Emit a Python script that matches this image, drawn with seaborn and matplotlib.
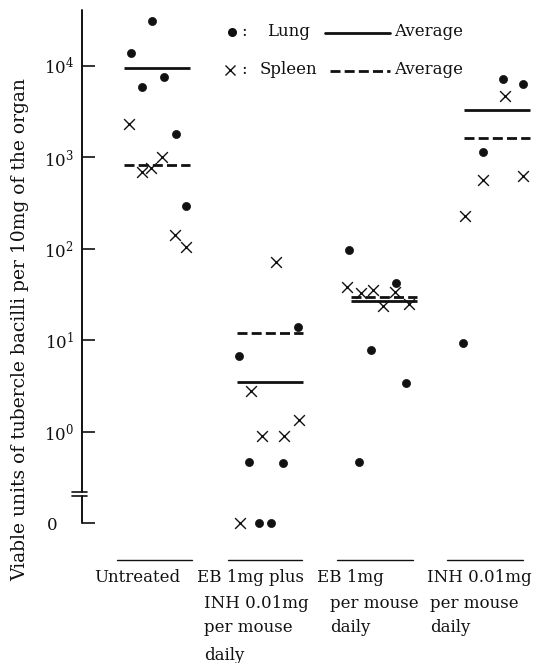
import numpy as np
import pandas as pd
import matplotlib
matplotlib.use("Agg")
import matplotlib.pyplot as plt
from matplotlib.lines import Line2D
import seaborn as sns

sns.set_theme(style="white")
plt.rcParams['font.family'] = ['DejaVu Serif']
plt.rcParams['mathtext.fontset'] = 'dejavuserif'

# ---------------- data ----------------
groups = ["Untreated", "EB+INH", "EB", "INH"]
group_labels = [
    ["Untreated"],
    ["EB 1mg plus", "INH 0.01mg", "per mouse", "daily"],
    ["EB 1mg", "per mouse", "daily"],
    ["INH 0.01mg", "per mouse", "daily"],
]

lung_values = [
    [31000, 13900, 5900, 7600, 1780, 295],
    [13.8, 6.7, 0.47, 0.45, 0, 0],
    [96, 42, 7.8, 3.4, 0.47],
    [7200, 6300, 1130, 9.3],
]
spleen_values = [
    [2300, 690, 770, 1000, 140, 105],
    [72, 2.75, 1.35, 0.9, 0.9, 0],
    [38, 33, 35, 34, 23.5, 25],
    [4700, 570, 630, 230],
]
lung_average = [9500, 3.45, 27, 3300]
spleen_average = [830, 12, 29.5, 1620]

# horizontal scatter of the hand-plotted points within each group (fraction of group spacing)
lung_offsets = [
    [-0.04, -0.23, -0.13, 0.06, 0.17, 0.26],
    [0.24, -0.28, -0.19, 0.11, -0.10, 0.01],
    [-0.31, 0.11, -0.11, 0.20, -0.22],
    [0.05, 0.23, -0.12, -0.30],
]
spleen_offsets = [
    [-0.25, -0.13, -0.05, 0.04, 0.16, 0.26],
    [0.05, -0.17, 0.25, -0.07, 0.12, -0.27],
    [-0.32, -0.20, -0.09, 0.10, -0.01, 0.22],
    [0.07, -0.12, 0.23, -0.28],
]

ZERO_LEVEL = 0.1   # display position of "0" below the axis break

def build(values, offsets, organ):
    rows = []
    for gi, (vals, offs) in enumerate(zip(values, offsets)):
        for v, o in zip(vals, offs):
            rows.append({"x": gi + o, "value": v if v > 0 else ZERO_LEVEL, "organ": organ})
    return pd.DataFrame(rows)

lung_df = build(lung_values, lung_offsets, "Lung")
spleen_df = build(spleen_values, spleen_offsets, "Spleen")

# ---------------- figure ----------------
W, H = 539, 663
fig = plt.figure(figsize=(W / 100, H / 100), dpi=100)

def fx(px):
    return px / W

def fy(py):
    return 1 - py / H

ax_left, ax_bottom_px, ax_top_px = 82, 523, 10
ax = fig.add_axes([fx(ax_left), fy(ax_bottom_px), 1 - fx(ax_left), (ax_bottom_px - ax_top_px) / H])
ax.set_yscale("log")
ax.set_ylim(ZERO_LEVEL, 10 ** 4.61)
ax.set_xlim(-0.662, 3.371)

ink = "#111111"
sns.scatterplot(data=lung_df, x="x", y="value", marker="o", s=34, color=ink,
                edgecolor=ink, linewidth=0.5, ax=ax, clip_on=False, zorder=3, legend=False)
sns.scatterplot(data=spleen_df, x="x", y="value", marker="x", s=60, color=ink,
                linewidth=1.0, ax=ax, clip_on=False, zorder=3, legend=False)

hw = 0.29
for gi in range(len(groups)):
    ax.hlines(lung_average[gi], gi - hw, gi + hw, colors=ink, linewidth=2.0, zorder=2)
    ax.hlines(spleen_average[gi], gi - hw, gi + hw, colors=ink, linewidth=2.0,
              linestyles=(0, (3.6, 1.5)), zorder=2)

# axes styling
for sp in ax.spines.values():
    sp.set_visible(False)
ax.set_xlabel("")
ax.set_ylabel("")
ax.set_xticks([])
yt = [1, 10, 100, 1000, 10000]
ax.set_yticks(yt + [ZERO_LEVEL])
ax.set_yticklabels([r"$10^{0}$", r"$10^{1}$", r"$10^{2}$", r"$10^{3}$", r"$10^{4}$", "0"])
ax.yaxis.set_minor_locator(matplotlib.ticker.NullLocator())
ax.tick_params(axis="y", direction="in", length=9, width=1.2, color=ink,
               labelsize=12, labelcolor=ink, pad=6, left=True)
# the "0" label sits a little further left in the print
ax.get_yticklabels()[-1].set_x(-0.035)

# left axis drawn with a break
ytr = ax.get_yaxis_transform()
ax.plot([0, 0], [10 ** -0.66, 10 ** 4.61], transform=ytr, color=ink, lw=1.4, clip_on=False)
ax.plot([0, 0], [10 ** -0.71, ZERO_LEVEL], transform=ytr, color=ink, lw=1.4, clip_on=False)
for yb in (10 ** -0.66, 10 ** -0.71):
    ax.plot([-0.022, 0.011], [yb, yb], transform=ytr, color=ink, lw=1.2, clip_on=False)
ax.grid(False)

# y label
fig.text(fx(20), fy(330), "Viable units of tubercle bacilli per 10mg of the organ",
         rotation=90, ha="center", va="center", fontsize=13.5, color=ink)

# legend (manual, as printed)
fig.add_artist(Line2D([fx(232)], [fy(32)], marker="o", markersize=5.5, color=ink, linestyle="none"))
fig.text(fx(241), fy(32), ":", ha="left", va="center", fontsize=12, color=ink)
fig.text(fx(267), fy(32), "Lung", ha="left", va="center", fontsize=12, color=ink)
fig.add_artist(Line2D([fx(325), fx(390)], [fy(33), fy(33)], color=ink, lw=2.0))
fig.text(fx(394), fy(32), "Average", ha="left", va="center", fontsize=12, color=ink)

fig.add_artist(Line2D([fx(230)], [fy(70)], marker="x", markersize=7, markeredgewidth=1.0,
                      color=ink, linestyle="none"))
fig.text(fx(241), fy(70), ":", ha="left", va="center", fontsize=12, color=ink)
fig.text(fx(260), fy(70), "Spleen", ha="left", va="center", fontsize=12, color=ink)
fig.add_artist(Line2D([fx(330), fx(390)], [fy(71), fy(71)], color=ink, lw=2.0,
                      linestyle=(0, (3.6, 1.5))))
fig.text(fx(394), fy(70), "Average", ha="left", va="center", fontsize=12, color=ink)

# group captions
underlines = [(117, 192), (228, 302), (337, 413), (447, 523)]
first_x = [94, 197, 317, 427]
rest_x = [94, 204, 330, 430]
line_y = [578, 603, 628, 655]
for gi, lines in enumerate(group_labels):
    x0, x1 = underlines[gi]
    fig.add_artist(Line2D([fx(x0), fx(x1)], [fy(560), fy(560)], color=ink, lw=1.0))
    for li, txt in enumerate(lines):
        xx = first_x[gi] if li == 0 else rest_x[gi]
        fig.text(fx(xx), fy(line_y[li]), txt, ha="left", va="center", fontsize=12, color=ink)

fig.savefig("out.png", dpi=100)
